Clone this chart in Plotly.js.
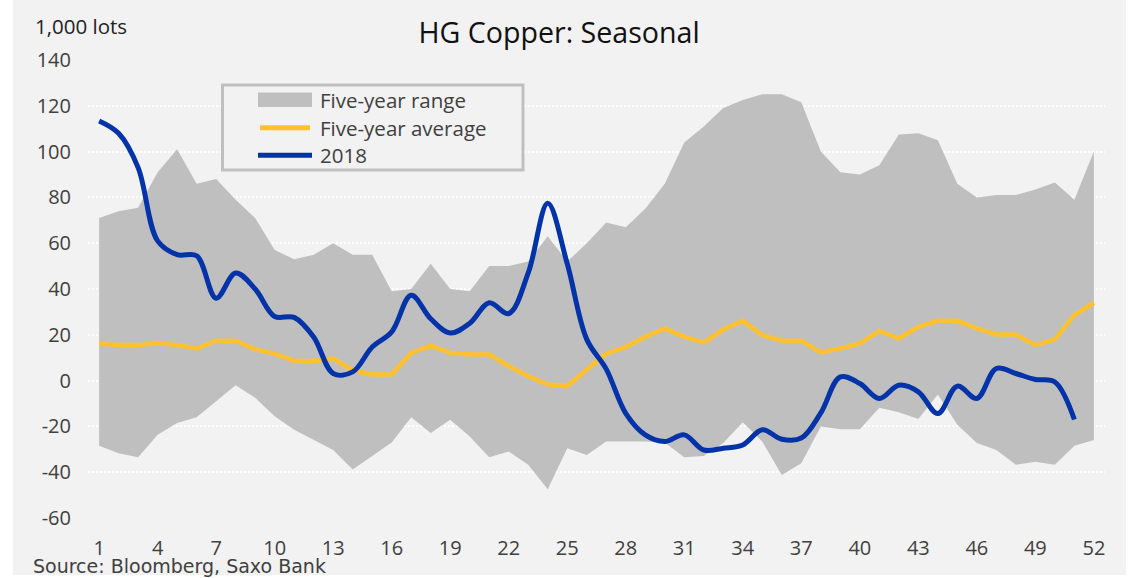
<!DOCTYPE html>
<html>
<head>
<meta charset="utf-8">
<script src="https://cdn.plot.ly/plotly-3.0.1.min.js"></script>
<style>
  html, body { margin: 0; padding: 0; background: #ffffff; }
  #chart { position: absolute; left: 13px; top: 0px; width: 1113px; height: 578px; }
</style>
</head>
<body>
<div id="chart"></div>
<script>
// ---- data ----
const weeks = Array.from({length: 52}, (_, i) => i + 1);

const rangeMax = [71, 74, 75.5, 91, 101, 86, 88, 79, 71, 57,
                  53, 55, 60, 55, 55, 39, 40, 51, 40, 39,
                  50, 50, 52, 63, 52, 60, 69, 67, 75, 86,
                  104, 111, 119, 122.5, 125, 125, 121.5, 100, 91, 90,
                  94, 107.5, 108, 105, 86, 80, 81, 81, 83.5, 86.5,
                  79, 100];

const rangeMin = [-28.4, -31.7, -33.5, -23.7, -18.5, -16, -9, -2, -7.5, -15.6,
                  -21.5, -25.9, -30.3, -38.8, -32.9, -27, -16, -22.9, -17.1, -24.4,
                  -33.5, -31, -36.8, -47.4, -29.5, -32.5, -26.6, -26.6, -26.6, -27,
                  -33.5, -32.9, -27.3, -18.2, -26.6, -41.2, -36.1, -20, -21.2, -21.2,
                  -11.9, -13.8, -16.8, -6.1, -19.3, -27.3, -30.3, -36.8, -35.4, -36.8,
                  -28.4, -25.9];

const avg5 = [16.2, 15.5, 15.5, 16.5, 15.5, 14, 17.4, 17.4, 13.6, 11.8,
              8.6, 8.6, 9.6, 4.5, 2.7, 2.7, 12.1, 15.3, 12.1, 11.4,
              11.4, 6.3, 1.9, -1.7, -2.4, 4.5, 11.8, 14.7, 19.1, 22.8,
              19.1, 16.6, 22.3, 26.1, 19.8, 17.4, 17.4, 12.3, 14, 16.2,
              21.7, 18.4, 23.5, 26.1, 26.1, 22.8, 20.1, 20.1, 15.5, 18,
              28.6, 34];

const y2018 = [113.4, 108, 93, 61, 55, 54.5, 36, 47, 40, 28,
               27.6, 19, 3.1, 3.8, 14.7, 21.3, 37.3, 27, 20.8, 25,
               34, 29.3, 47, 77.4, 51, 18, 5, -14.3, -23.7, -26.6,
               -23.7, -30.3, -29.5, -28.1, -21.5, -25.6, -25.1, -14.1, 1.6, -1.3,
               -7.8, -2, -4.9, -14.4, -2.4, -7.8, 5.3, 3.1, 0.5, -0.6,
               -17];
const weeks2018 = weeks.slice(0, y2018.length);

const xTickVals = [1, 4, 7, 10, 13, 16, 19, 22, 25, 28, 31, 34, 37, 40, 43, 46, 49, 52];
const yTickVals = [-60, -40, -20, 0, 20, 40, 60, 80, 100, 120, 140];
const yTickText = ['-60', '-40', '-20', '0', '20', '40', '60', '80', '100', '120', '140'];

const seriesNames = ['Five-year range', 'Five-year average', '2018'];
const titleText = 'HG Copper: Seasonal';
const unitText = '1,000 lots';
const sourceText = 'Source: Bloomberg, Saxo Bank';

// ---- styles ----
const BG = '#F2F2F2';
const GRAY = '#BFBFBF';
const YELLOW = '#FFC12F';
const BLUE = '#0333A8';
const TXT = '#404040';
const FONT = 'Open Sans, sans-serif';

// helpers: page pixel -> paper coordinates (plot area 88..1105 x 60..518)
const fx = px => (px - 88) / 1017;
const fy = py => (518 - py) / 458;

const traces = [
  { x: weeks, y: rangeMin, type: 'scatter', mode: 'lines',
    line: { width: 0, color: GRAY }, showlegend: false, hoverinfo: 'skip' },
  { x: weeks, y: rangeMax, type: 'scatter', mode: 'lines', fill: 'tonexty',
    fillcolor: GRAY, line: { width: 0, color: GRAY }, name: seriesNames[0], showlegend: false },
  { x: weeks, y: avg5, type: 'scatter', mode: 'lines',
    line: { width: 4.5, color: YELLOW }, name: seriesNames[1], showlegend: false },
  { x: weeks2018, y: y2018, type: 'scatter', mode: 'lines',
    line: { width: 5, color: BLUE, shape: 'spline', smoothing: 1 }, name: seriesNames[2], showlegend: false }
];

const legendX0 = fx(258), legendX1 = fx(312);
const shapes = [
  { type: 'rect', xref: 'paper', yref: 'paper', x0: fx(222.5), x1: fx(523), y0: fy(170), y1: fy(85),
    line: { color: GRAY, width: 3 }, fillcolor: BG, layer: 'above' },
  { type: 'rect', xref: 'paper', yref: 'paper', x0: legendX0, x1: legendX1, y0: fy(107), y1: fy(92.5),
    line: { width: 0 }, fillcolor: GRAY, layer: 'above' },
  { type: 'line', xref: 'paper', yref: 'paper', x0: legendX0 + 0.002, x1: legendX1 - 0.002, y0: fy(127.7), y1: fy(127.7),
    line: { color: YELLOW, width: 5 }, layer: 'above' },
  { type: 'line', xref: 'paper', yref: 'paper', x0: legendX0, x1: legendX1, y0: fy(155.3), y1: fy(155.3),
    line: { color: BLUE, width: 5 }, layer: 'above' },
  // white strip under the chart frame, as in the reference image border
  { type: 'rect', xref: 'paper', yref: 'paper', x0: fx(0), x1: fx(1134), y0: fy(578.5), y1: fy(575),
    line: { width: 0 }, fillcolor: '#FFFFFF', layer: 'below' }
];

const legFont = { family: FONT, size: 20.5, color: TXT };
const annotations = [
  { xref: 'paper', yref: 'paper', x: fx(318), y: fy(99.5), xanchor: 'left', yanchor: 'middle',
    text: seriesNames[0], showarrow: false, font: legFont },
  { xref: 'paper', yref: 'paper', x: fx(318), y: fy(127.5), xanchor: 'left', yanchor: 'middle',
    text: seriesNames[1], showarrow: false, font: legFont },
  { xref: 'paper', yref: 'paper', x: fx(318), y: fy(155), xanchor: 'left', yanchor: 'middle',
    text: seriesNames[2], showarrow: false, font: legFont },
  { xref: 'paper', yref: 'paper', x: fx(33), y: fy(26), xanchor: 'left', yanchor: 'middle',
    text: unitText, showarrow: false, font: { family: FONT, size: 20.5, color: '#222222' } },
  { xref: 'paper', yref: 'paper', x: fx(31), y: fy(566), xanchor: 'left', yanchor: 'middle',
    text: sourceText, showarrow: false, font: { family: 'DejaVu Sans, Verdana, sans-serif', size: 19, color: TXT } }
];

const layout = {
  width: 1113, height: 578,
  margin: { l: 75, r: 21, t: 60, b: 60, pad: 0 },
  paper_bgcolor: BG, plot_bgcolor: BG,
  showlegend: false,
  title: { text: titleText, xref: 'container', x: 0.4906, xanchor: 'center',
           yref: 'container', y: 1 - 33 / 578, yanchor: 'middle',
           font: { family: FONT, size: 28.6, color: '#111111' } },
  xaxis: { range: [0.43, 52.57], tickmode: 'array', tickvals: xTickVals,
           showgrid: false, zeroline: false, showline: false, ticks: '',
           ticklabelstandoff: 16,
           tickfont: { family: FONT, size: 20, color: TXT }, fixedrange: true },
  yaxis: { range: [-60, 140], tickmode: 'array', tickvals: yTickVals, ticktext: yTickText,
           showgrid: true, gridcolor: '#FFFFFF', gridwidth: 2, griddash: '2px,2px',
           zeroline: false, showline: false, ticks: '',
           ticklabelstandoff: 16,
           tickfont: { family: FONT, size: 20, color: TXT }, fixedrange: true },
  shapes: shapes,
  annotations: annotations
};

Plotly.newPlot('chart', traces, layout, { displayModeBar: false, staticPlot: true });
</script>
</body>
</html>
